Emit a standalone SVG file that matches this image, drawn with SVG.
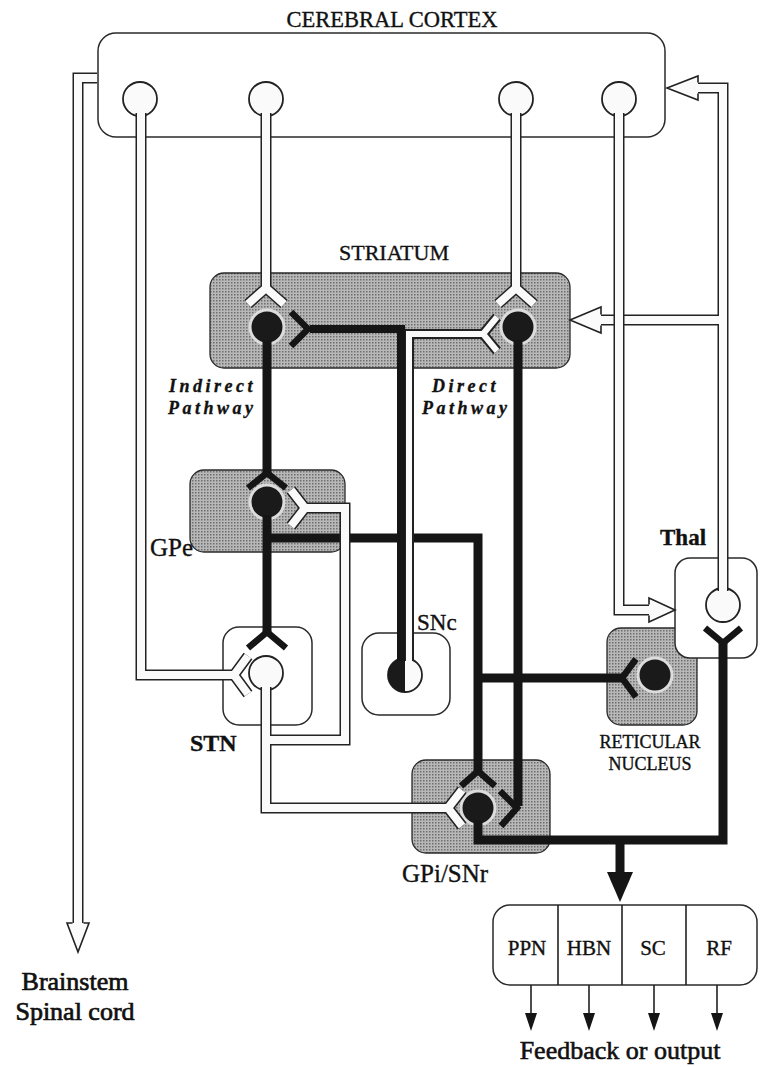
<svg xmlns="http://www.w3.org/2000/svg" xmlns:xlink="http://www.w3.org/1999/xlink" width="760" height="1067" viewBox="0 0 760 1067">
<style>
.lbl{font-family:"Liberation Serif","Times New Roman",serif;fill:#111;stroke:#111;stroke-width:0.35}
.box{fill:#fff;stroke:#2a2a2a;stroke-width:1.5}
.stip{fill:url(#dots);stroke:#2a2a2a;stroke-width:1.3}
.wcell{fill:#fafafa;stroke:#222;stroke-width:1.8}
.bcell{fill:#1a1a1a;stroke:#dcdcdc;stroke-width:3}
.wo{fill:none;stroke:#222;stroke-width:11;stroke-linejoin:miter}
.wi{fill:none;stroke:#fafafa;stroke-width:8;stroke-linejoin:miter}
.wo2{fill:none;stroke:#222;stroke-width:10}
.wi2{fill:none;stroke:#fafafa;stroke-width:6}
.bk{fill:none;stroke:#151515;stroke-width:9;stroke-linejoin:miter}
.bkf{fill:none;stroke:#151515;stroke-width:6.5;stroke-linejoin:miter}
.bk2{fill:none;stroke:#151515;stroke-width:8}
.ah{fill:#fafafa;stroke:#222;stroke-width:1.6;stroke-linejoin:miter}
.thin{fill:none;stroke:#222;stroke-width:1.6}
.fa{fill:#151515}
</style>
<defs>
<pattern id="dots" width="3" height="3" patternUnits="userSpaceOnUse">
<rect width="3" height="3" fill="#b8b8b8"/>
<rect width="1.5" height="1.5" fill="#6e6e6e"/>
</pattern>
<path id="w1" d="M141,113 V675 H234 M248,656 L234,675 L248,694"/>
<path id="w2" d="M266,113 V289 M248,304 L266,288 L284,304"/>
<path id="w3" d="M516,113 V289 M498,304 L516,288 L534,304"/>
<path id="w5" d="M723,591 V88 H698 M723,320 H601"/>
<path id="w4" d="M619,113 V610 H649"/>
<path id="w6" d="M266,687 V808 H448 M462,790 L448,808 L462,826 M266,740 H345 V508 H306 M291,490 L305,508 L291,526"/>
<path id="w7" d="M97,78 H78 V924"/>
<path id="ws" d="M409,661 V334 H483 M497,317 L483,334 L497,351"/>
</defs>
<rect width="760" height="1067" fill="#fff"/>

<g id="cortex">
<rect class="box" x="98" y="33" width="567" height="104" rx="18"/>
<text class="lbl" x="392" y="27" font-size="22.5" text-anchor="middle">CEREBRAL CORTEX</text>
<circle class="wcell" cx="140" cy="99" r="17"/>
<circle class="wcell" cx="266" cy="99" r="17"/>
<circle class="wcell" cx="516" cy="99" r="17"/>
<circle class="wcell" cx="619" cy="99" r="17"/>
</g>

<g id="striatum">
<rect class="stip" x="210" y="273" width="360" height="95" rx="14"/>
<text class="lbl" x="394" y="260" font-size="22" text-anchor="middle">STRIATUM</text>
<circle class="bcell" cx="267" cy="327" r="17"/>
<circle class="bcell" cx="518" cy="327" r="17"/>
</g>

<g id="gpe">
<rect class="stip" x="190" y="470" width="155" height="82" rx="14"/>
<text class="lbl" x="150" y="556" font-size="25">GPe</text>
<circle class="bcell" cx="267" cy="502" r="17"/>
</g>

<g id="stn">
<rect class="box" x="223" y="627" width="89" height="98" rx="16"/>
<text class="lbl" x="190" y="751" font-size="24" font-weight="bold">STN</text>
<circle class="wcell" cx="266" cy="673" r="17"/>
</g>

<g id="snc">
<rect class="box" x="362" y="633" width="88" height="82" rx="17"/>
<text class="lbl" x="417" y="630" font-size="23">SNc</text>
<circle class="wcell" cx="405" cy="675" r="17"/>
<path d="M405,658 A17,17 0 0 0 405,692 Z" fill="#1a1a1a"/>
</g>

<g id="reticular">
<rect class="stip" x="607" y="628" width="90" height="97" rx="14"/>
<circle class="bcell" cx="655" cy="675" r="17"/>
<text class="lbl" x="650" y="748" font-size="18" text-anchor="middle">RETICULAR</text>
<text class="lbl" x="650" y="770" font-size="18" text-anchor="middle">NUCLEUS</text>
</g>

<g id="thal">
<rect class="box" x="675" y="558" width="82" height="100" rx="15"/>
<text class="lbl" x="660" y="545" font-size="23" font-weight="bold">Thal</text>
<circle class="wcell" cx="723" cy="605" r="17"/>
</g>

<g id="gpi">
<rect class="stip" x="412" y="760" width="138" height="93" rx="14"/>
<text class="lbl" x="402" y="882" font-size="25">GPi/SNr</text>
<circle class="bcell" cx="478" cy="808" r="17"/>
</g>

<g id="targets">
<rect class="box" x="493" y="905" width="264" height="80" rx="17"/>
<path class="thin" d="M558,905 V985 M622,905 V985 M686,905 V985"/>
<text class="lbl" x="527" y="955" font-size="21" text-anchor="middle">PPN</text>
<text class="lbl" x="589" y="955" font-size="21" text-anchor="middle">HBN</text>
<text class="lbl" x="653" y="955" font-size="21" text-anchor="middle">SC</text>
<text class="lbl" x="719" y="955" font-size="21" text-anchor="middle">RF</text>
</g>

<g id="labels">
<text class="lbl" x="169" y="392" font-size="18" font-style="italic" font-weight="bold" letter-spacing="3.5">Indirect</text>
<text class="lbl" x="168" y="414" font-size="18" font-style="italic" font-weight="bold" letter-spacing="3.5">Pathway</text>
<text class="lbl" x="432" y="392" font-size="18" font-style="italic" font-weight="bold" letter-spacing="3.5">Direct</text>
<text class="lbl" x="422" y="414" font-size="18" font-style="italic" font-weight="bold" letter-spacing="3.5">Pathway</text>
<text class="lbl" x="75" y="990" font-size="26" text-anchor="middle" style="stroke-width:0.7">Brainstem</text>
<text class="lbl" x="75" y="1020" font-size="26" text-anchor="middle" style="stroke-width:0.7">Spinal cord</text>
<text class="lbl" x="620" y="1059" font-size="26" text-anchor="middle" style="stroke-width:0.6">Feedback or output</text>
</g>

<g id="connectors">
<!-- GPe output (under SNc axon) -->
<path class="bk" d="M267,538 H478 V772 M478,678 H624"/>
<path class="bkf" d="M461,786 L478,771 L495,786 M636,659 L622,678 L636,697"/>
<!-- indirect pathway striatum -> GPe -->
<path class="bk" d="M267,340 V475"/>
<path class="bkf" d="M248,488 L267,473 L286,488"/>
<!-- GPe -> STN -->
<path class="bk" d="M267,515 V634"/>
<path class="bkf" d="M248,648 L267,632 L286,648"/>
<!-- direct pathway striatum -> GPi -->
<path class="bk" d="M518,340 V806"/>
<path class="bkf" d="M500,791 L517,808 L501,826"/>
<!-- GPi output -->
<path class="bk" d="M478,820 V840 H723 V641 M620,840 V874"/>
<path class="bkf" d="M705,628 L723,643 L741,628"/>
<polygon class="fa" points="607,872 633,872 620,902"/>

<!-- excitatory (white) pathways -->
<use xlink:href="#w7" class="wo"/><use xlink:href="#w7" class="wi"/>
<path class="ah" d="M72.5,923 H67 L78,952 L89,923 H83.5"/>
<use xlink:href="#w1" class="wo"/><use xlink:href="#w1" class="wi"/>
<use xlink:href="#w2" class="wo"/><use xlink:href="#w2" class="wi"/>
<use xlink:href="#w3" class="wo"/><use xlink:href="#w3" class="wi"/>
<use xlink:href="#w5" class="wo"/><use xlink:href="#w5" class="wi"/>
<path class="ah" d="M698,82.5 V76 L667,88 L698,100 V93.5"/>
<path class="ah" d="M601,314.5 V307 L570,320 L601,333 V325.5"/>
<use xlink:href="#w4" class="wo"/><use xlink:href="#w4" class="wi"/>
<path class="ah" d="M649,604.5 V598 L675,610 L649,622 V615.5"/>
<use xlink:href="#w6" class="wo"/><use xlink:href="#w6" class="wi"/>

<!-- SNc dopaminergic axon: half white, half black -->
<use xlink:href="#ws" class="wo2"/><use xlink:href="#ws" class="wi2"/>
<path class="bk2" d="M401,661 V329 H310"/>
<path class="bkf" d="M291,312 L308,329 L291,346"/>

<!-- outputs to targets -->
<path class="thin" d="M531,985 V1014 M589,985 V1014 M654,985 V1014 M717,985 V1014"/>
<polygon class="fa" points="525,1013 537,1013 531,1031"/>
<polygon class="fa" points="583,1013 595,1013 589,1031"/>
<polygon class="fa" points="648,1013 660,1013 654,1031"/>
<polygon class="fa" points="711,1013 723,1013 717,1031"/>
</g>
</svg>
